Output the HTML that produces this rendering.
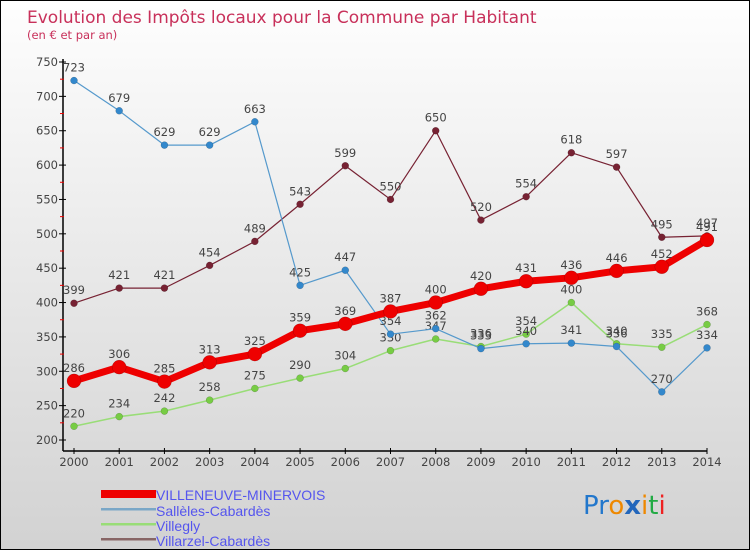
<!DOCTYPE html>
<html><head><meta charset="utf-8"><style>
body{margin:0}
#wrap{position:relative;width:748px;height:548px;border:1px solid #000;background:linear-gradient(#fefefe,#d2d2d2);overflow:hidden;font-family:"DejaVu Sans","Liberation Sans",sans-serif}
</style></head><body>
<div id="wrap">
<svg id="svg" width="748" height="548" style="position:absolute;left:0;top:0">
<text x="26" y="22" font-size="17" fill="#c8305a" font-family="DejaVu Sans">Evolution des Impôts locaux pour la Commune par Habitant</text>
<text x="26" y="38" font-size="11.5" fill="#c8305a">(en € et par an)</text>
<g id="axes"></g><g id="series"></g>
<g font-size="14" fill="#5555ee" font-family="Liberation Sans Narrow, Liberation Sans, sans-serif">
<rect x="100" y="489" width="55" height="8" fill="#ee0000"/>
<text x="155" y="499">VILLENEUVE-MINERVOIS</text>
<rect x="100" y="507" width="55" height="2.5" fill="#7aa7c7"/>
<text x="155" y="515">Sallèles-Cabardès</text>
<rect x="100" y="522" width="55" height="2.5" fill="#99dd77"/>
<text x="155" y="530">Villegly</text>
<rect x="100" y="537" width="55" height="2.5" fill="#886666"/>
<text x="155" y="545">Villarzel-Cabardès</text>
</g>
<g font-size="26" font-family="DejaVu Sans">
<text x="582" y="513"><tspan fill="#2277cc">Pr</tspan><tspan fill="#ee8800">o</tspan><tspan fill="#2266bb" font-weight="bold">x</tspan><tspan fill="#ee8800">i</tspan><tspan fill="#22aa44">t</tspan><tspan fill="#ee2222">i</tspan></text>
</g>
</svg>
</div>
<script>
const years=[2000,2001,2002,2003,2004,2005,2006,2007,2008,2009,2010,2011,2012,2013,2014];
const yTicks=[200,250,300,350,400,450,500,550,600,650,700,750];
const villeneuve=[286,306,285,313,325,359,369,387,400,420,431,436,446,452,491];
const salleles=[723,679,629,629,663,425,447,354,362,333,340,341,336,270,334];
const villegly=[220,234,242,258,275,290,304,330,347,336,354,400,340,335,368];
const villarzel=[399,421,421,454,489,543,599,550,650,520,554,618,597,495,497];
const NS='http://www.w3.org/2000/svg';
const X=i=>73+i*(706-73)/(years.length-1);
const Y=v=>439-(v-200)*(378/550);
function mk(t,a,p){const e=document.createElementNS(NS,t);for(const k in a)e.setAttribute(k,a[k]);p.appendChild(e);return e;}
const ax=document.getElementById('axes');
let l=mk('line',{x1:62,y1:58,x2:62,y2:450,stroke:'#000','stroke-width':1.5},ax);


l=mk('line',{x1:62,y1:450,x2:706,y2:450,stroke:'#000','stroke-width':1.5},ax);


yTicks.forEach((v,i)=>{
 mk('line',{x1:58,y1:Y(v),x2:65,y2:Y(v),stroke:'#000'},ax);
 if(i<yTicks.length-1){mk('line',{x1:59,y1:Y(v+25),x2:63,y2:Y(v+25),stroke:'#e00'},ax);}
 const t=mk('text',{x:57,y:Y(v)+4,'text-anchor':'end','font-size':11.5,fill:'#444'},ax);t.textContent=v;
 
 
});
years.forEach((yr,i)=>{
 mk('line',{x1:X(i),y1:447,x2:X(i),y2:453,stroke:'#000'},ax);
 const t=mk('text',{x:X(i),y:465,'text-anchor':'middle','font-size':11.5,fill:'#444'},ax);t.textContent=yr;
 
 
});
const sg=document.getElementById('series');
function series(vals,color,w,r,dot,name){
 const g=mk('g',{},sg);
 
 
 mk('polyline',{points:vals.map((v,i)=>X(i)+','+Y(v)).join(' '),fill:'none',stroke:color,'stroke-width':w,'stroke-linejoin':'round'},g);
 vals.forEach((v,i)=>{
  const c=mk('circle',{cx:X(i),cy:Y(v),r:r,fill:dot,stroke:'rgba(0,0,0,0.25)','stroke-width':0.5},g);
  
  
  const t=mk('text',{x:X(i),y:Y(v)-9,'text-anchor':'middle','font-size':11.5,fill:'#444'},g);t.textContent=v;
 });
}
series(villarzel,'#772233',1.2,3.5,'#772233','series-villarzel');
series(villegly,'#99dd77',1.5,3.5,'#77cc44','series-villegly');
series(salleles,'#5599cc',1.2,3.5,'#3388cc','series-salleles');
series(villeneuve,'#ee0000',7,7,'#ee0000','series-villeneuve');
</script>
</body></html>
